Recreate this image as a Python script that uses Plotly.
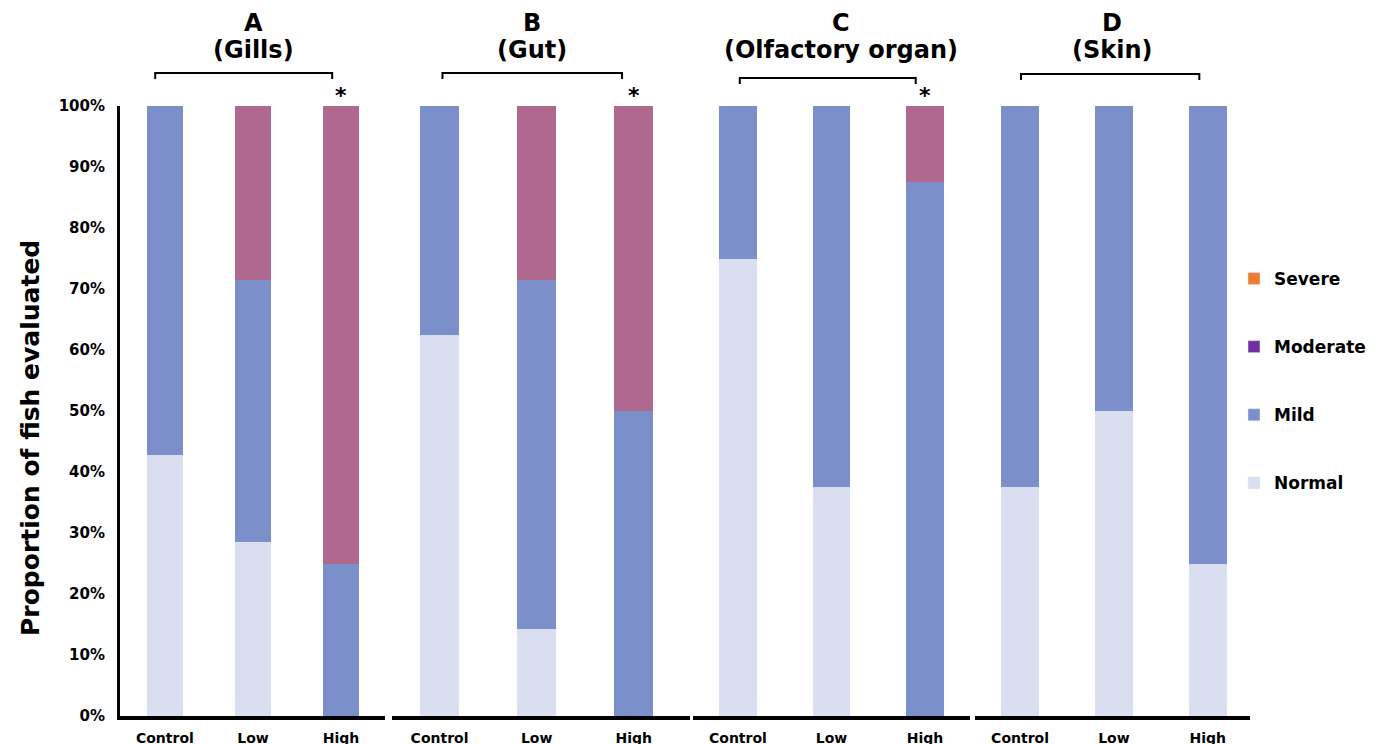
import plotly.graph_objects as go

W, H = 1378, 744
groups = ["Control", "Low", "High"]
panels = ["A", "B", "C", "D"]
organs = ["Gills", "Gut", "Olfactory organ", "Skin"]

series = ["Normal", "Mild", "Moderate", "Severe"]
bar_colors = {"Normal": "#D9DFF0", "Mild": "#7B8FCB", "Moderate": "#B0698E", "Severe": "#ED7D31"}
legend_colors = {"Normal": "#D9DFF0", "Mild": "#7B8FCB", "Moderate": "#7030A0", "Severe": "#ED7D31"}

normal = {"A": [42.86, 28.57, 0], "B": [62.5, 14.29, 0], "C": [75, 37.5, 0], "D": [37.5, 50, 25]}
mild = {"A": [57.14, 42.86, 25], "B": [37.5, 57.14, 50], "C": [25, 62.5, 87.5], "D": [62.5, 50, 75]}
moderate = {"A": [0, 28.57, 75], "B": [0, 28.57, 50], "C": [0, 0, 12.5], "D": [0, 0, 0]}
severe = {"A": [0, 0, 0], "B": [0, 0, 0], "C": [0, 0, 0], "D": [0, 0, 0]}
significant = {"A": True, "B": True, "C": True, "D": False}
yticks = list(range(0, 101, 10))

values = {"Normal": normal, "Mild": mild, "Moderate": moderate, "Severe": severe}

FONT = "DejaVu Sans"
OFF = 8  # page body margin offset
px = lambda x: (x - OFF) / W
py = lambda y: 1 - (y - OFF) / H

# layout geometry (screen pixels)
x_dom = {"A": (120, 385), "B": (392, 690), "C": (693, 970), "D": (975, 1250)}
x_rng = {"A": (-0.51, 2.5), "B": (-0.49, 2.58), "C": (-0.48, 2.48), "D": (-0.48, 2.45)}
bar_w = {"A": 0.41, "B": 0.40, "C": 0.40, "D": 0.40}
title_cx = {"A": 253, "B": 532, "C": 841, "D": 1112}
bracket = {"A": (-0.11, 1.9, 73), "B": (0.03, 1.88, 73), "C": (0.02, 1.9, 78), "D": (0.01, 1.91, 74)}
y_top, y_bot = 106, 716

fig = go.Figure()
for i, p in enumerate(panels):
    xa = "x" if i == 0 else f"x{i+1}"
    for s in series:
        fig.add_trace(go.Bar(
            x=groups, y=values[s][p], name=s, xaxis=xa, yaxis="y",
            marker=dict(color=bar_colors[s], line=dict(width=0)),
            width=bar_w[p], showlegend=False))

# legend entries (top to bottom: Severe, Moderate, Mild, Normal)
for s in reversed(series):
    fig.add_trace(go.Bar(x=[None], y=[None], name=s, xaxis="x", yaxis="y",
                         marker=dict(color=legend_colors[s]), legendgroup=s, showlegend=True))

layout = dict(
    width=W, height=H, barmode="stack", bargap=0,
    paper_bgcolor="white", plot_bgcolor="white",
    margin=dict(l=0, r=0, t=0, b=0, autoexpand=False),
    font=dict(family=FONT, color="black"),
    showlegend=True,
    legend=dict(x=px(1234), y=py(261), xanchor="left", yanchor="top",
                font=dict(family=FONT, size=17, color="black", weight="bold"),
                tracegroupgap=43, traceorder="grouped", bgcolor="rgba(0,0,0,0)"),
    yaxis=dict(domain=[py(y_bot), py(y_top)], range=[0, 100], anchor="x",
               tickvals=yticks, ticktext=[f"{v}%" for v in yticks],
               showgrid=False, zeroline=False, showline=True, linecolor="black", linewidth=3,
               ticks="", ticklabelstandoff=9, automargin=False,
               tickfont=dict(family=FONT, size=15, color="black", weight="bold")),
)
for i, p in enumerate(panels):
    key = "xaxis" if i == 0 else f"xaxis{i+1}"
    layout[key] = dict(domain=[px(x_dom[p][0]), px(x_dom[p][1])], range=list(x_rng[p]),
                       anchor="y", type="category", showgrid=False, zeroline=False,
                       showline=True, linecolor="black", linewidth=3.5, ticks="",
                       ticklabelstandoff=6, automargin=False,
                       tickfont=dict(family=FONT, size=14, color="black", weight="bold"))
fig.update_layout(**layout)

annotations = []
shapes = []
tfont = dict(family=FONT, size=24, color="black", weight="bold")
for i, p in enumerate(panels):
    xa = "x" if i == 0 else f"x{i+1}"
    annotations.append(dict(x=px(title_cx[p]), y=py(23), xref="paper", yref="paper",
                            text=p, showarrow=False, font=tfont,
                            xanchor="center", yanchor="middle"))
    annotations.append(dict(x=px(title_cx[p]), y=py(50), xref="paper", yref="paper",
                            text=f"({organs[i]})", showarrow=False, font=tfont,
                            xanchor="center", yanchor="middle"))
    x0, x1, yb = bracket[p]
    shapes.append(dict(type="path", xref=xa, yref="paper",
                       path=f"M {x0} {py(yb+6)} L {x0} {py(yb)} L {x1} {py(yb)} L {x1} {py(yb+6)}",
                       line=dict(color="black", width=2)))
    if significant[p]:
        annotations.append(dict(x=groups[2], y=py(110), xref=xa, yref="paper",
                                text="*", showarrow=False, xanchor="center", yanchor="bottom",
                                font=dict(family=FONT, size=22, color="black", weight="bold")))

annotations.append(dict(x=px(30), y=py(438), xref="paper", yref="paper",
                        text="Proportion of fish evaluated", textangle=-90, showarrow=False,
                        font=dict(family=FONT, size=25, color="black", weight="bold"),
                        xanchor="center", yanchor="middle"))
fig.update_layout(annotations=annotations, shapes=shapes)

fig.write_html("out.html")
